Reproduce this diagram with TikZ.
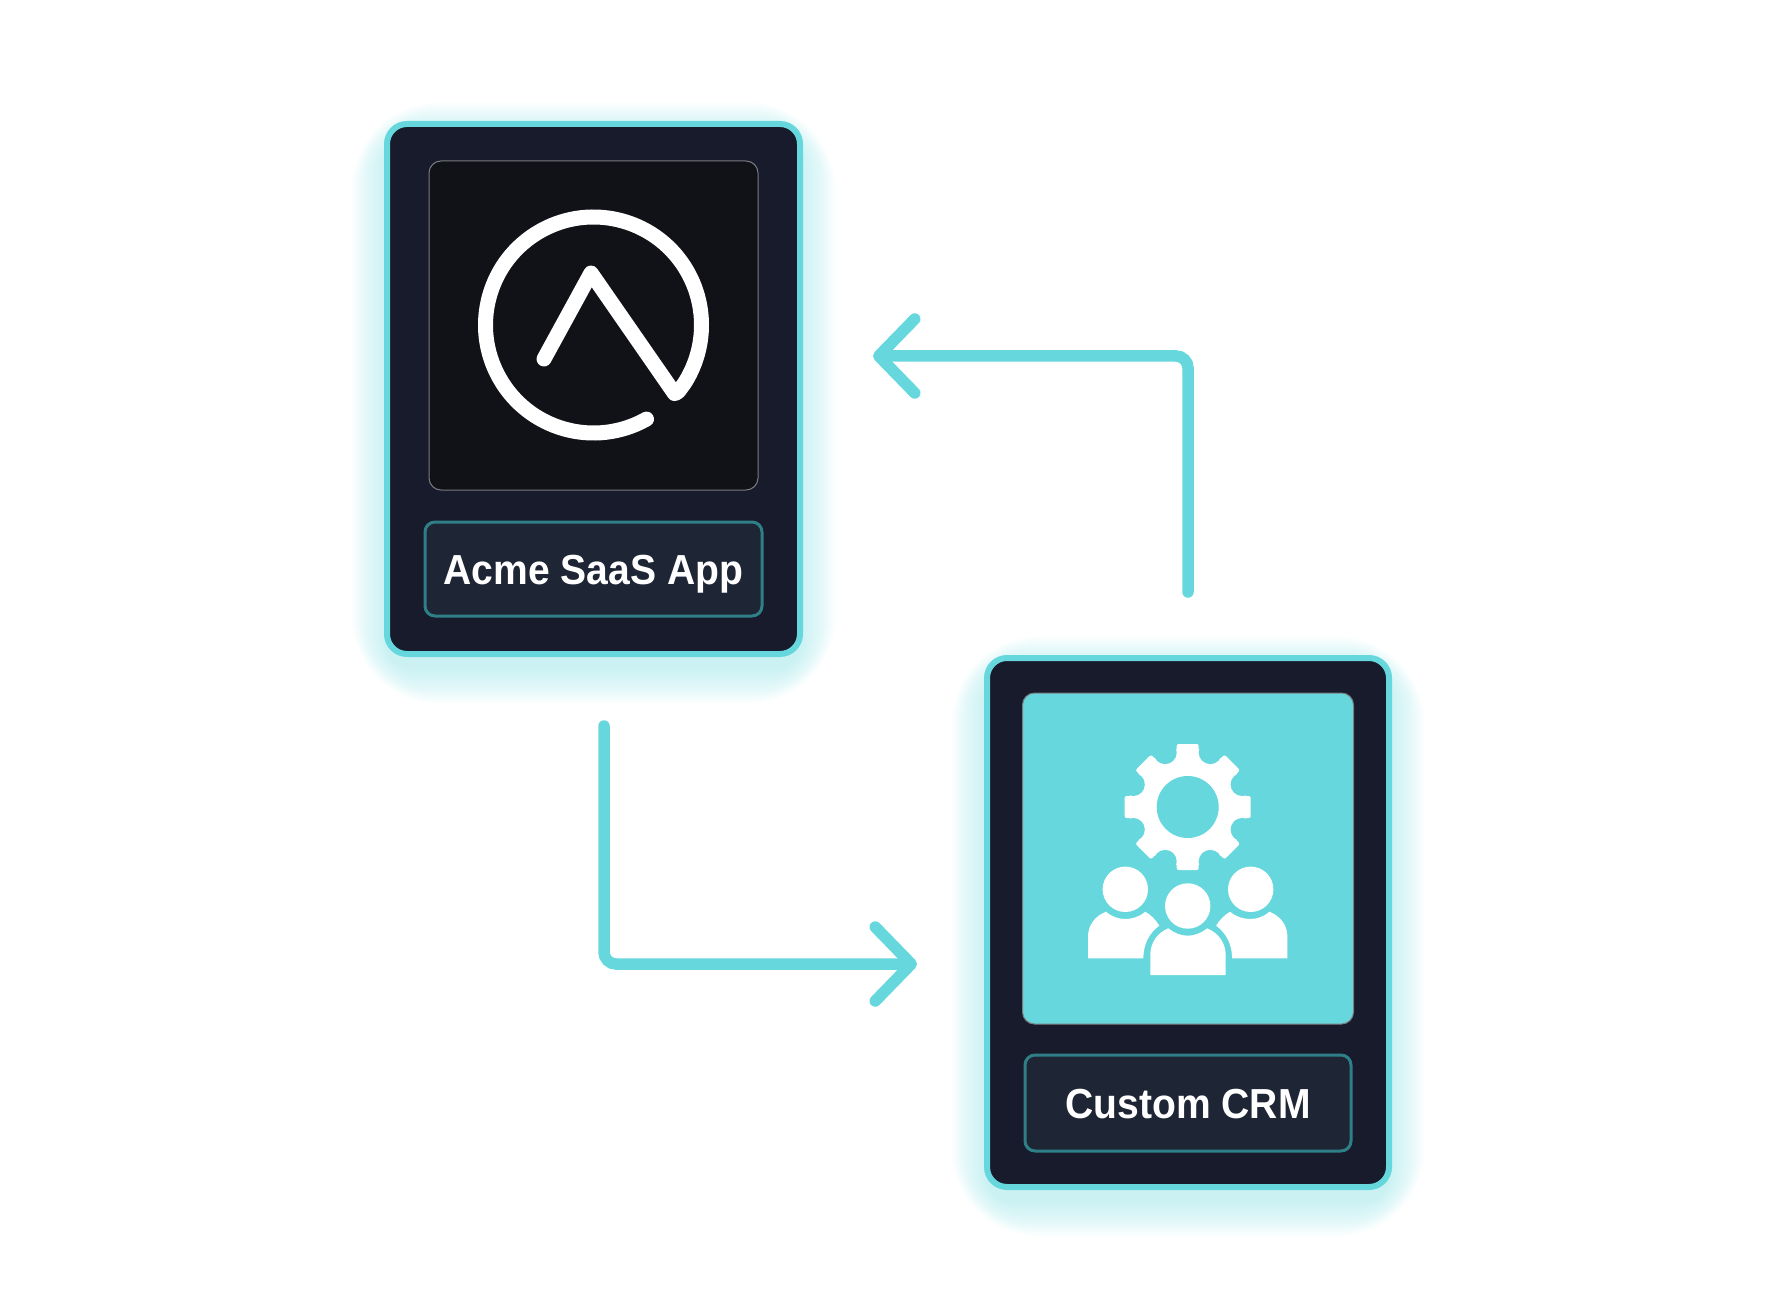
\documentclass[tikz,border=0pt]{standalone}
\usepackage{fontspec}
\setmainfont{Liberation Sans}[FakeStretch=0.93]
\usetikzlibrary{positioning,calc,backgrounds,arrows.meta}
\definecolor{tealline}{HTML}{66D7DD}
\definecolor{cardfill}{HTML}{171B2C}
\definecolor{logofill}{HTML}{101217}
\definecolor{labelfill}{HTML}{1E2535}
\definecolor{labelline}{HTML}{2F7F88}
\definecolor{boxline}{HTML}{7A7C80}
\begin{document}
\begin{tikzpicture}[x=0.5pt, y=-0.5pt,
    main/.style = {draw=tealline, fill=cardfill, line width=3pt, rounded corners=10pt, outer sep=0pt, inner sep=0pt},
    picbox/.style = {draw=boxline, line width=0.5pt, rounded corners=6pt, outer sep=0pt, inner sep=0pt},
    namebox/.style = {draw=labelline, fill=labelfill, line width=1.5pt, rounded corners=5pt, outer sep=0pt, inner sep=0pt, text=white, text height=15pt, text depth=0pt, font=\bfseries\fontsize{21pt}{21pt}\selectfont},
    flow/.style = {draw=tealline, line width=5.75pt, line cap=round, rounded corners=6pt, -{Straight Barb[length=18pt,width=37pt,round]}},
    logo/.style = {draw=white, line width=7.5pt, line cap=round, line join=round},
    glow/.style = {tealline, opacity=0.011}]
    \useasboundingbox (0,0) rectangle (1776,1294);

    % Disegna le schede
    \node[main, minimum width=206.5pt, minimum height=265pt] (acmecard) at (593.5,389) {};
    \node[main, minimum width=201pt, minimum height=264.5pt] (crmcard) at (1188,922.5) {};
    \node[picbox, fill=logofill, minimum width=164.5pt, minimum height=164.5pt] (acmelogo) [below=18.5pt of acmecard.north] {};
    \node[picbox, fill=tealline, minimum width=165.5pt, minimum height=165.5pt] (crmpic) [below=17.5pt of crmcard.north] {};
    \node[namebox, minimum width=168.5pt, minimum height=47pt] (acmename) [above=19pt of acmecard.south] {Acme SaaS App};
    \node[namebox, minimum width=163pt, minimum height=48pt] (crmname) [above=18pt of crmcard.south] {Custom CRM};

    % Alone attorno alle schede
    \begin{scope}[on background layer]
        \foreach \c in {acmecard,crmcard}
            \foreach[evaluate=\k as \d using -10+82*(\k/36)^1.15, evaluate=\k as \r using 12+0.9*\d] \k in {1,...,36}
                \fill[glow, rounded corners=\r pt] ($(\c.north west)+(0-\d,14-\d)$) rectangle ($(\c.south east)+(\d,14+\d)$);
    \end{scope}

    % Logo
    \draw[logo] (593.5,325) ++(60.6:108) arc[start angle=60.6, end angle=393, radius=108] .. controls (680,389) and (678,393.5) .. (674.5,393.5) -- (591,273) -- (544,359);

    % Ingranaggio
    \begin{scope}[shift={(1187.7,807)}]
        \fill[white] (0,0) circle[radius=59];
        \foreach \a in {0,45,...,315}
            \fill[white, rotate=\a, rounded corners=1pt] (-11,-40) rectangle (11,-63);
        \foreach \a in {22.5,67.5,...,337.5}
            \fill[tealline] (\a:59) circle[radius=11.6];
        \fill[tealline] (0,0) circle[radius=31];
    \end{scope}

    % Persone
    \foreach \px/\py in {1125.3/889.3, 1250.7/889.3, 1187.7/906}
        \fill[white] (\px,\py) circle[radius=22.7];
    \fill[white] (1088,958.3) -- (1088,936.7) .. controls (1088,925) and (1095,916) .. (1106,911.7)
        .. controls (1112,917) and (1119,919) .. (1125.3,919) .. controls (1132,919) and (1139,917) .. (1145.3,911.7)
        .. controls (1151,915) and (1156,920) .. (1159.3,925.7) .. controls (1149,933) and (1143.3,945) .. (1143.3,958.3) -- cycle;
    \fill[white] (1287.4,958.3) -- (1287.4,936.7) .. controls (1287.4,925) and (1280.4,916) .. (1269.4,911.7)
        .. controls (1263.4,917) and (1256.4,919) .. (1250.1,919) .. controls (1243.4,919) and (1236.4,917) .. (1230.1,911.7)
        .. controls (1224.4,915) and (1219.4,920) .. (1216.1,925.7) .. controls (1226.4,933) and (1232.1,945) .. (1232.1,958.3) -- cycle;
    \fill[white] (1150.3,975) -- (1150.3,955) .. controls (1150.3,943) and (1157,933) .. (1168.3,928.3)
        .. controls (1174,933) and (1181,935.7) .. (1187.7,935.7) .. controls (1194.4,935.7) and (1201.4,933) .. (1207.3,928.3)
        .. controls (1218.4,933) and (1225.7,943) .. (1225.7,955) -- (1225.7,975) -- cycle;

    % Disegna gli archi orientati
    \coordinate (acmeout) at (604,726);
    \coordinate (crmin) at (917,964);
    \coordinate (crmout) at (1188,592);
    \coordinate (acmein) at (873,356);
    \draw[flow] (acmeout) |- (crmin);
    \draw[flow] (crmout) |- (acmein);
\end{tikzpicture}
\end{document}
